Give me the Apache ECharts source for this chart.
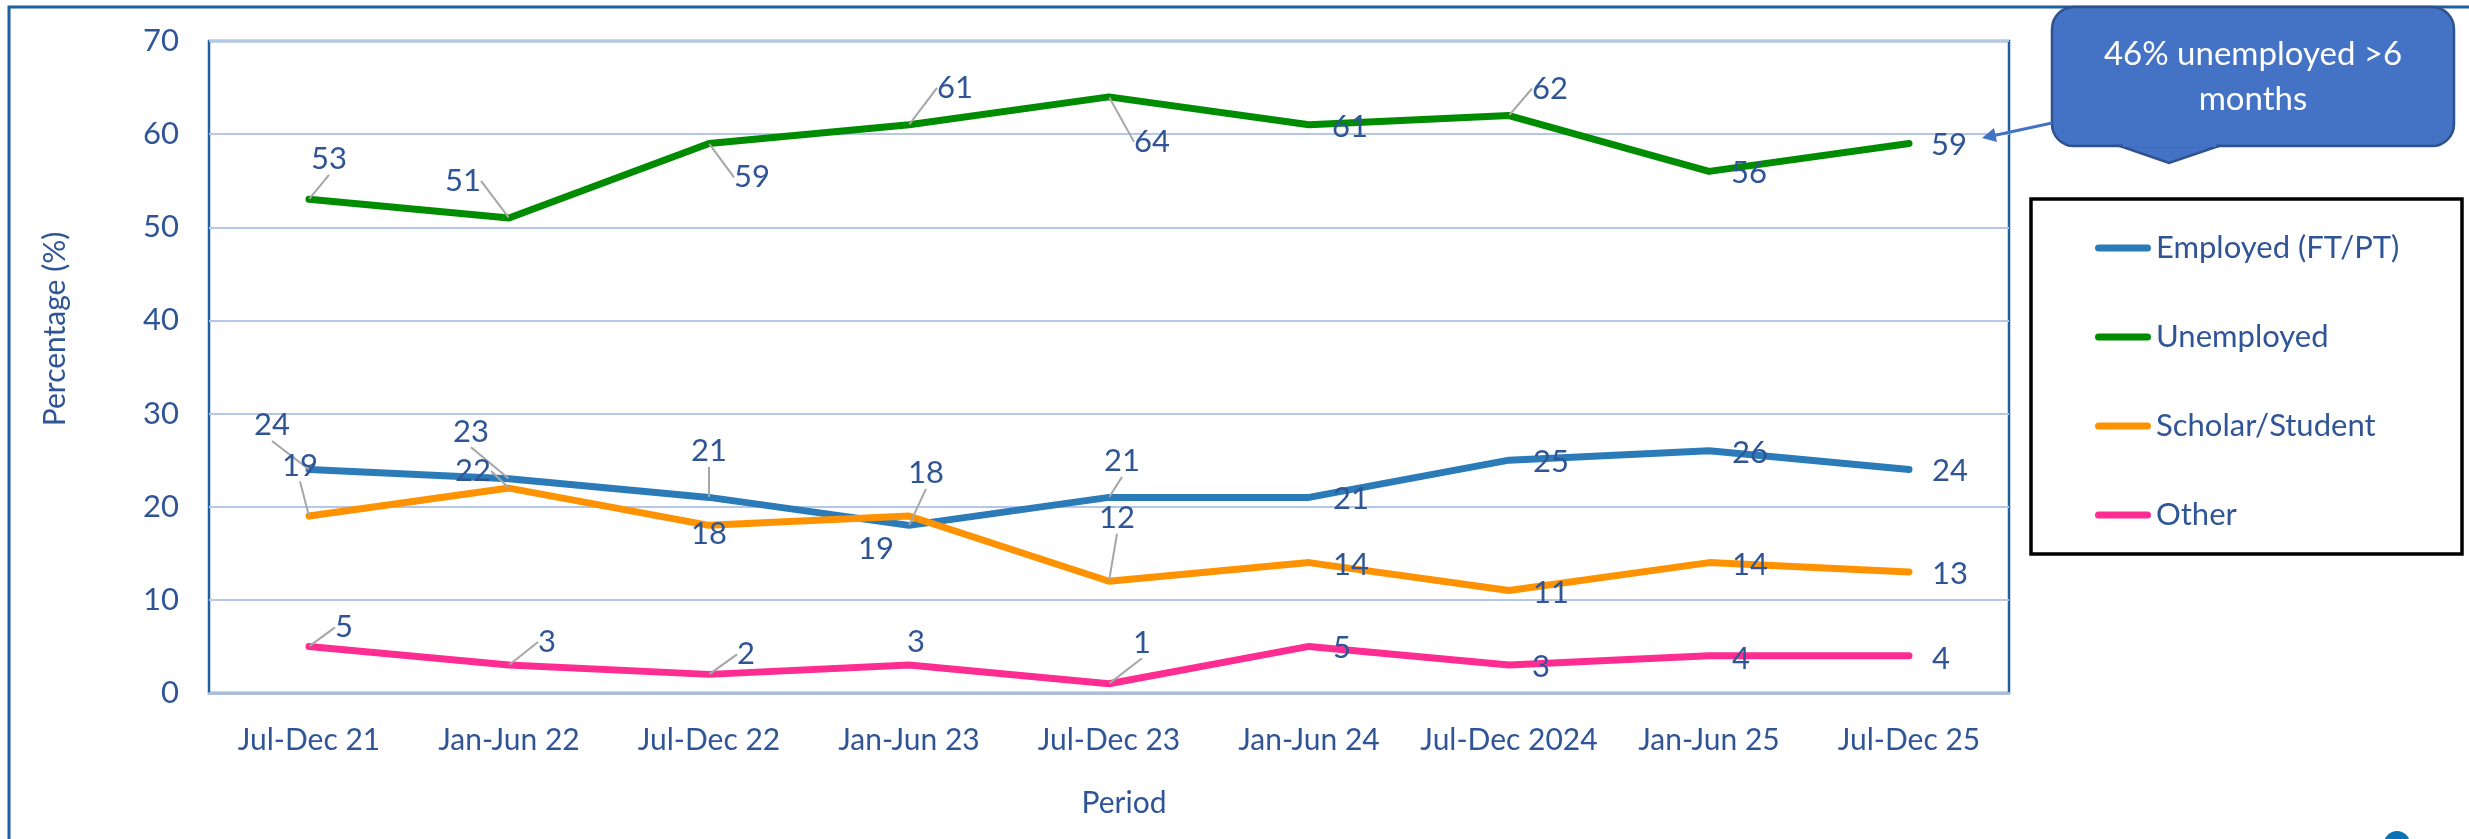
<!DOCTYPE html>
<html>
<head>
<meta charset="utf-8">
<title>Status by period</title>
<script src="https://cdn.jsdelivr.net/npm/echarts@6/dist/echarts.min.js"></script>
<style>
  html, body { margin: 0; padding: 0; background: #fff; }
  #main { width: 2469px; height: 839px; }
</style>
</head>
<body>
<div id="main"></div>
<script>
// categories + values
var periods = ['Jul-Dec 21', 'Jan-Jun 22', 'Jul-Dec 22', 'Jan-Jun 23', 'Jul-Dec 23', 'Jan-Jun 24', 'Jul-Dec 2024', 'Jan-Jun 25', 'Jul-Dec 25'];
var employed = [24, 23, 21, 18, 21, 21, 25, 26, 24];
var unemployed = [53, 51, 59, 61, 64, 61, 62, 56, 59];
var scholar = [19, 22, 18, 19, 12, 14, 11, 14, 13];
var other = [5, 3, 2, 3, 1, 5, 3, 4, 4];
var yTicks = [0, 10, 20, 30, 40, 50, 60, 70];

// where each data label sits relative to its point (dx, dy), and if it has a leader
var labelOffsets = {
    'Employed (FT/PT)': [[-37, -44], [-38, -47], [0, -46], [17, -52], [13, -36], [42, 2], [42, 2], [41, 2], [41, 2]],
    'Unemployed': [[20, -40], [-46, -37], [43, 34], [46, -37], [43, 45], [41, 2], [41, -27], [40, 2], [40, 2]],
    'Scholar/Student': [[-9, -50], [-36, -17], [0, 9], [-33, 33], [8, -63], [42, 2], [42, 2], [41, 2], [41, 2]],
    'Other': [[35, -19], [38, -23], [37, -20], [7, -23], [33, -41], [33, 2], [32, 2], [32, 3], [32, 3]]
};
var leaders = {
    'Employed (FT/PT)': [1, 1, 1, 1, 1, 0, 0, 0, 0],
    'Unemployed': [1, 1, 1, 1, 1, 0, 1, 0, 0],
    'Scholar/Student': [1, 1, 0, 0, 1, 0, 0, 0, 0],
    'Other': [1, 1, 1, 0, 1, 0, 0, 0, 0]
};

var FONT = 'Lato, "Open Sans", sans-serif';
var TXT = '#2F5597';

function makeSeries(name, values, color) {
    return {
        name: name,
        type: 'line',
        data: values.map(function (v, i) {
            return { value: v, labelLine: { show: !!leaders[name][i] } };
        }),
        symbol: 'circle',
        symbolSize: 1,
        showSymbol: true,
        itemStyle: { color: color },
        lineStyle: { color: color, width: 7, cap: 'round', join: 'round' },
        label: {
            show: true,
            position: 'inside',
            color: TXT,
            fontFamily: FONT,
            fontSize: 31
        },
        labelLine: {
            show: true,
            lineStyle: { color: '#A6A6A6', width: 2 }
        },
        labelLayout: function (p) {
            var o = labelOffsets[name][p.dataIndex];
            return { dx: o[0], dy: o[1], hideOverlap: false };
        },
        emphasis: { disabled: true },
        animation: false
    };
}

var chart = echarts.init(document.getElementById('main'));

var option = {
    animation: false,
    backgroundColor: '#fff',
    grid: {
        left: 209, right: 460, top: 41, bottom: 146,
        show: true, borderColor: '#1F5FA0', borderWidth: 2.5
    },
    xAxis: {
        type: 'category',
        data: periods,
        boundaryGap: true,
        name: 'Period',
        nameLocation: 'middle',
        nameGap: 95,
        nameTextStyle: { color: TXT, fontFamily: FONT, fontSize: 30, padding: [0, 0, 0, 30] },
        axisLine: { lineStyle: { color: '#A9BCD4', width: 2.5 } },
        axisTick: { show: false },
        axisLabel: { color: TXT, fontFamily: FONT, fontSize: 30, margin: 32, interval: 0 }
    },
    yAxis: {
        type: 'value',
        min: yTicks[0],
        max: yTicks[yTicks.length - 1],
        interval: 10,
        axisLine: { show: false },
        axisTick: { show: false },
        splitLine: { lineStyle: { color: '#B4C7E7', width: 2 } },
        axisLabel: { color: TXT, fontFamily: FONT, fontSize: 31, margin: 30 }
    },
    legend: {
        orient: 'vertical',
        left: 2090,
        top: 225,
        itemWidth: 56,
        itemHeight: 7,
        itemGap: 53,
        icon: 'path://M3.5,0 H52.5 A3.5,3.5 0 0 1 52.5,7 H3.5 A3.5,3.5 0 0 1 3.5,0 Z',
        textStyle: { color: TXT, fontFamily: FONT, fontSize: 31, lineHeight: 36 },
        selectedMode: false,
        z: 10
    },
    graphic: [
        // outer frame
        { type: 'rect', shape: { x: 9, y: 7, width: 2480, height: 860 }, style: { fill: 'none', stroke: '#1F5FA0', lineWidth: 3 }, z: 0, silent: true },
        // y axis title (sits a little above the plot's middle)
        {
            type: 'text', x: 55, y: 329, rotation: Math.PI / 2,
            style: { text: 'Percentage (%)', align: 'center', verticalAlign: 'middle', fill: TXT, font: '30px ' + FONT },
            silent: true
        },
        // legend box
        { type: 'rect', shape: { x: 2031, y: 199, width: 431, height: 355 }, style: { fill: '#fff', stroke: '#000', lineWidth: 3.5 }, z: 1, silent: true },
        // callout bubble: rounded box + pointer, seam hidden by a fill strip
        { type: 'rect', shape: { x: 2052, y: 7, width: 402, height: 139, r: 22 }, style: { fill: '#4472C4', stroke: '#2F528F', lineWidth: 2.5 }, z: 20, silent: true },
        { type: 'polygon', shape: { points: [[2120, 146], [2169, 163], [2219, 146]] }, style: { fill: '#4472C4', stroke: '#2F528F', lineWidth: 2.5 }, z: 20, silent: true },
        { type: 'rect', shape: { x: 2123, y: 141, width: 93, height: 6 }, style: { fill: '#4472C4' }, z: 21, silent: true },
        {
            type: 'text',
            style: { text: '46% unemployed >6\nmonths', x: 2253, y: 77, align: 'center', verticalAlign: 'middle', fill: '#fff', font: '33px ' + FONT, lineHeight: 45 },
            z: 22, silent: true
        },
        // arrow to the last unemployed point
        { type: 'line', shape: { x1: 2052, y1: 123, x2: 1994, y2: 135.5 }, style: { stroke: '#4472C4', lineWidth: 3 }, z: 20, silent: true },
        { type: 'polygon', shape: { points: [[1982, 138], [1997, 142], [1994, 128]] }, style: { fill: '#4472C4' }, z: 20, silent: true },
        // partial icon at the bottom edge
        { type: 'circle', shape: { cx: 2397, cy: 844, r: 13 }, style: { fill: '#0B72B5' }, z: 1, silent: true }
    ],
    series: [
        makeSeries('Employed (FT/PT)', employed, '#2B7BB9'),
        makeSeries('Unemployed', unemployed, '#008C00'),
        makeSeries('Scholar/Student', scholar, '#FF9200'),
        makeSeries('Other', other, '#FF2D91')
    ]
};

chart.setOption(option);
</script>
</body>
</html>
